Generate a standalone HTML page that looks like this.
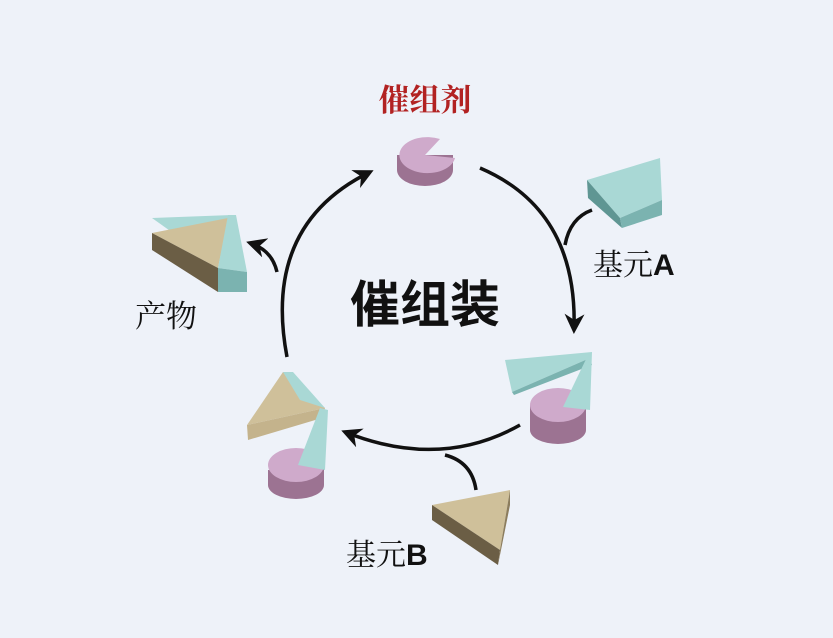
<!DOCTYPE html>
<html><head><meta charset="utf-8"><style>
body{margin:0;background:#eef2f9;}
svg{display:block}
text{font-family:"Liberation Sans","Noto Sans CJK SC",sans-serif;}
.lb{font-family:"Liberation Sans","Noto Serif CJK SC",serif;}
</style></head><body>
<svg width="833" height="638" viewBox="0 0 833 638">
<defs>
<marker id="ah" viewBox="0 0 10 10" refX="8" refY="5" markerWidth="20" markerHeight="20" orient="auto-start-reverse" markerUnits="userSpaceOnUse">
<path d="M0,0 L10,5 L0,10 L3,5 z" fill="#111"/></marker>
</defs>
<rect width="833" height="638" fill="#eef2f9"/>
<g fill="none" stroke="#111" stroke-width="3.5">
<path d="M287,357 Q262,225 370,172" marker-end="url(#ah)"/>
<path d="M480,168 Q578,210 574,330" marker-end="url(#ah)"/>
<path d="M520,425 Q440,470 345,432" marker-end="url(#ah)"/>
<path d="M277,272 Q272,250 250,243" marker-end="url(#ah)"/>
<path d="M592,210 Q570,218 565,245"/>
<path d="M476,490 Q472,462 445,455"/>
</g>
<!-- catalyst -->
<g>
<path d="M397,155 L397,170 A28,16 0 0 0 453,170 L453,155 Z" fill="#9c7392"/>
<path d="M425,155 L455,158 A28,18 0 1 1 440,139 Z" fill="#cfaacb"/>
</g>
<text x="425" y="111" font-size="31" font-weight="bold" fill="#b22222" text-anchor="middle" class="lb">催组剂</text>
<!-- A -->
<polygon points="587,180 660,158 662,200 620,218" fill="#a9d8d5"/>
<polygon points="587,180 620,218 622,228 588,198" fill="#5f9693"/>
<polygon points="620,218 662,200 662,215 622,228" fill="#7bb3b0"/>
<text x="593" y="275" font-size="30" fill="#111" class="lb">基元<tspan font-weight="bold" font-family="Liberation Sans">A</tspan></text>
<!-- product -->
<polygon points="152,218 232,215 218,265" fill="#a9d8d5"/>
<polygon points="152,233 228,218 218,268" fill="#cfc09a"/>
<polygon points="152,233 218,268 218,292 152,250" fill="#6b5e45"/>
<polygon points="228,215 236,215 247,272 218,268" fill="#a9d8d5"/>
<polygon points="218,268 247,272 247,292 218,292" fill="#7bb3b0"/>
<text x="135" y="327" font-size="31" fill="#111" class="lb">产物</text>
<text x="425" y="322" font-size="50" font-weight="bold" fill="#111" text-anchor="middle">催组装</text>
<!-- right intermediate -->
<path d="M530,405 L530,430 A28,14 0 0 0 586,430 L586,405 Z" fill="#9c7392"/>
<ellipse cx="558" cy="405" rx="28" ry="17" fill="#cfaacb"/>
<polygon points="505,360 592,352 590,358 512,392" fill="#a9d8d5"/>
<polygon points="512,392 590,358 592,365 514,395" fill="#7bb3b0"/>
<polygon points="588,355 592,352 590,410 563,407" fill="#a9d8d5"/>
<!-- left intermediate -->
<path d="M268,470 L268,485 A28,14 0 0 0 324,485 L324,468 Z" fill="#9c7392"/>
<ellipse cx="296" cy="465" rx="28" ry="17" fill="#cfaacb"/>
<polygon points="283,372 325,408 247,425" fill="#cfc09a"/>
<polygon points="247,425 325,408 322,418 248,440" fill="#c4b38c"/>
<polygon points="283,372 293,372 325,408 300,400" fill="#a9d8d5"/>
<polygon points="320,408 328,410 325,470 298,465" fill="#a9d8d5"/>
<!-- B -->
<polygon points="432,505 510,490 500,550" fill="#cfc09a"/>
<polygon points="432,505 500,550 498,565 432,520" fill="#6b5e45"/>
<polygon points="500,550 510,490 510,505 498,565" fill="#8c7d5d"/>
<text x="346" y="565" font-size="30" fill="#111" class="lb">基元<tspan font-weight="bold" font-family="Liberation Sans">B</tspan></text>
</svg>
</body></html>
